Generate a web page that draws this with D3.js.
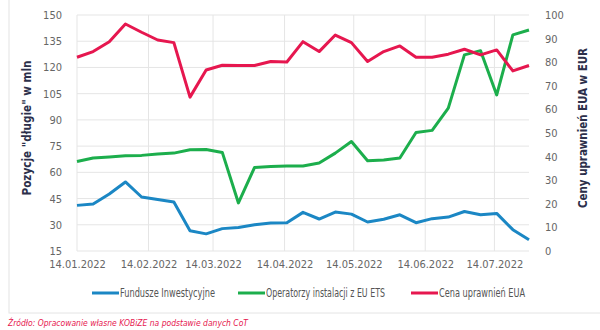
<!DOCTYPE html>
<html>
<head>
<meta charset="utf-8">
<script src="https://cdn.jsdelivr.net/npm/d3@7"></script>
<style>
  body { margin: 0; background: #fff; }
  text { font-family: "DejaVu Sans", sans-serif; font-stretch: condensed; }
</style>
</head>
<body>
<script>
// weekly CoT dates
const dates = ["14.01.2022","21.01.2022","28.01.2022","04.02.2022","11.02.2022","18.02.2022","25.02.2022",
  "04.03.2022","11.03.2022","18.03.2022","25.03.2022","01.04.2022","08.04.2022","15.04.2022","22.04.2022",
  "29.04.2022","06.05.2022","13.05.2022","20.05.2022","27.05.2022","03.06.2022","10.06.2022","17.06.2022",
  "24.06.2022","01.07.2022","08.07.2022","15.07.2022","22.07.2022","29.07.2022"];

// long positions, mln (left axis)
const fundusze = [41.1,41.9,47.6,54.5,45.9,44.4,43.0,26.6,24.8,27.8,28.5,30.0,31.0,31.2,37.1,
  33.3,37.3,36.1,31.6,33.2,35.7,31.2,33.5,34.4,37.6,35.7,36.5,27.2,21.4];
const operatorzy = [66.2,68.2,68.8,69.5,69.7,70.5,71.0,72.9,73.1,71.4,42.5,62.8,63.4,63.6,63.6,
  65.3,71.0,77.6,66.6,67.0,68.2,82.8,84.0,96.7,127.2,129.6,104.3,138.6,141.4];
// EUA price, EUR (right axis)
const cena = [82.1,84.5,88.7,96.2,92.7,89.4,88.3,65.2,76.7,78.7,78.6,78.6,80.3,80.1,88.7,
  84.5,91.5,88.3,80.3,84.5,86.9,82.1,82.1,83.4,85.5,83.1,85.2,76.3,78.6];

const leftTicks = [15,30,45,60,75,90,105,120,135,150];
const rightTicks = [0,10,20,30,40,50,60,70,80,90,100];
const xTicks = ["14.01.2022","14.02.2022","14.03.2022","14.04.2022","14.05.2022","14.06.2022","14.07.2022"];

const series = [
  {name: "Fundusze Inwestycyjne", values: fundusze, color: "#1b87c4", axis: "left"},
  {name: "Operatorzy instalacji z EU ETS", values: operatorzy, color: "#1cae4c", axis: "left"},
  {name: "Cena uprawnień EUA", values: cena, color: "#e6174f", axis: "right"}
];

const parse = d3.timeParse("%d.%m.%Y");

const W = 600, H = 330;
const margin = {top: 15, right: 71, bottom: 79, left: 77},
    width = W - margin.left - margin.right,
    height = H - margin.top - margin.bottom;

const root = d3.select("body")
  .append("svg")
  .attr("width", W)
  .attr("height", H);

// card
root.append("rect")
  .attr("x", 9).attr("y", -5)
  .attr("width", 600).attr("height", 318)
  .attr("fill", "#fff")
  .attr("stroke", "#e4e4e4");

const svg = root.append("g")
  .attr("transform", `translate(${margin.left},${margin.top})`);

const x = d3.scaleTime()
  .domain([parse(dates[0]), parse(dates[dates.length - 1])])
  .range([0, width]);
const yL = d3.scaleLinear().domain([15, 150]).range([height, 0]);
const yR = d3.scaleLinear().domain([0, 100]).range([height, 0]);

// grid
svg.append("g")
  .selectAll("line.h")
  .data(leftTicks)
  .enter().append("line")
  .attr("x1", 0).attr("x2", width)
  .attr("y1", d => yL(d)).attr("y2", d => yL(d))
  .attr("stroke", "#e5e5e5");
svg.append("g")
  .selectAll("line.v")
  .data(xTicks)
  .enter().append("line")
  .attr("x1", d => x(parse(d))).attr("x2", d => x(parse(d)))
  .attr("y1", 0).attr("y2", height)
  .attr("stroke", "#e5e5e5");

function styleTicks(g) {
  g.select(".domain").remove();
  g.selectAll("text")
    .attr("font-size", 11)
    .attr("fill", "#666")
    .attr("font-family", null);
}

// left axis
svg.append("g")
  .call(d3.axisLeft(yL).tickValues(leftTicks).tickSize(0).tickPadding(15))
  .call(styleTicks);

// right axis
svg.append("g")
  .attr("transform", `translate(${width},0)`)
  .call(d3.axisRight(yR).tickValues(rightTicks).tickSize(0).tickPadding(16))
  .call(styleTicks);

// x axis
svg.append("g")
  .attr("transform", `translate(0,${height})`)
  .call(d3.axisBottom(x).tickValues(xTicks.map(parse)).tickFormat(d3.timeFormat("%d.%m.%Y")).tickSize(0).tickPadding(9))
  .call(styleTicks);

// axis titles
svg.append("text")
  .attr("transform", `translate(${-46},${height / 2 - 5}) rotate(-90)`)
  .attr("text-anchor", "middle")
  .attr("font-size", 12)
  .attr("font-weight", "bold")
  .attr("fill", "#2c2f4a")
  .attr("textLength", 135)
  .attr("lengthAdjust", "spacingAndGlyphs")
  .text("Pozycje \"długie\" w mln");
svg.append("text")
  .attr("transform", `translate(${width + 58},${height / 2 - 5}) rotate(-90)`)
  .attr("text-anchor", "middle")
  .attr("font-size", 12)
  .attr("font-weight", "bold")
  .attr("fill", "#2c2f4a")
  .attr("textLength", 160)
  .attr("lengthAdjust", "spacingAndGlyphs")
  .text("Ceny uprawnień EUA w EUR");

// lines
series.forEach(function(s) {
  const y = s.axis === "left" ? yL : yR;
  const line = d3.line()
    .x((d, i) => x(parse(dates[i])))
    .y(d => y(d));
  svg.append("path")
    .datum(s.values)
    .attr("fill", "none")
    .attr("stroke", s.color)
    .attr("stroke-width", 3)
    .attr("stroke-linejoin", "round")
    .attr("d", line);
});

// legend
const legX = [92, 238, 411];
const legW = [95, 119, 86];
const legend = root.append("g").attr("transform", "translate(0,293)");
series.forEach(function(s, i) {
  legend.append("line")
    .attr("x1", legX[i]).attr("x2", legX[i] + 27)
    .attr("y1", 0).attr("y2", 0)
    .attr("stroke", s.color)
    .attr("stroke-width", 3);
  legend.append("text")
    .attr("x", legX[i] + 28)
    .attr("y", 4)
    .attr("font-size", 12)
    .attr("fill", "#555")
    .attr("textLength", legW[i])
    .attr("lengthAdjust", "spacingAndGlyphs")
    .text(s.name);
});

// source
root.append("text")
  .attr("x", 8).attr("y", 326)
  .attr("font-size", 9.5)
  .attr("font-style", "italic")
  .attr("fill", "#e6174f")
  .attr("textLength", 240)
  .attr("lengthAdjust", "spacingAndGlyphs")
  .text("Źródło: Opracowanie własne KOBiZE na podstawie danych CoT");
</script>
</body>
</html>
